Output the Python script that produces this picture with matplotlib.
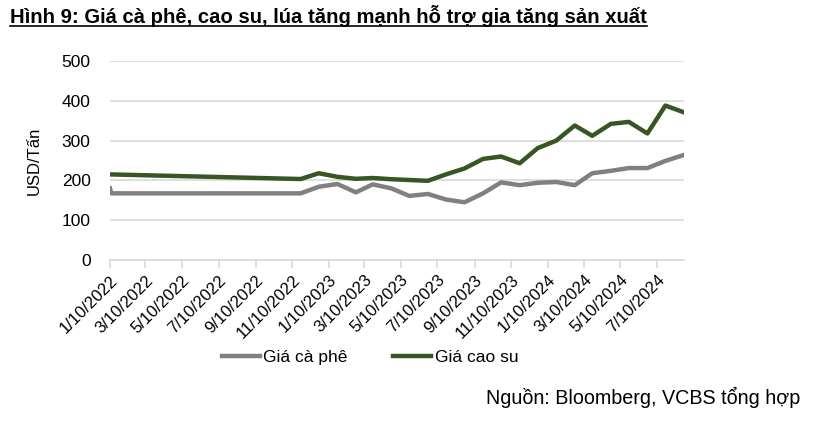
import numpy as np
import pandas as pd
import matplotlib
matplotlib.use("Agg")
import matplotlib.pyplot as plt
from matplotlib.lines import Line2D

plt.rcParams['font.family'] = ['Liberation Sans', 'DejaVu Sans']

# data (USD/Tan)
start_dates = ["2022-01-10", "2022-01-12"]
monthly_dates = list(pd.date_range("2022-11-01", periods=22, freq="MS") + pd.Timedelta(days=23))
coffee_start = [180, 167.5]
coffee = [167.5, 184, 191, 170, 190, 180, 161, 166, 152, 145, 167.5,
          195, 188, 194, 196, 188, 218, 224, 231, 231, 249, 264]
rubber_start = [215, 215]
rubber = [203.5, 218, 209, 204, 206, 203, 201, 199, 215, 230, 254,
          260, 243, 281, 300, 338, 312, 342, 347, 318, 388, 371]
tick_dates = pd.date_range("2022-01-01", "2024-07-01", freq="2MS") + pd.Timedelta(days=9)

dates = pd.to_datetime(start_dates + [d.strftime("%Y-%m-%d") for d in monthly_dates])
coffee_all = coffee_start + coffee
rubber_all = rubber_start + rubber

fig = plt.figure(figsize=(8.14, 4.30), dpi=100)
ax = fig.add_axes([110 / 814, 1 - 260 / 430, (684 - 110) / 814, (260 - 61) / 430])

ax.plot(dates, coffee_all, color="#808080", lw=3.2, solid_joinstyle="round", label="Giá cà phê")
ax.plot(dates, rubber_all, color="#375623", lw=3.2, solid_joinstyle="round", label="Giá cao su")

ax.set_ylim(0, 500)
ax.set_yticks(np.arange(0, 501, 100))
ax.set_xlim(dates[0], dates[-1])
ax.set_xticks(tick_dates)
ax.set_xticklabels([f"{d.month}/{d.day}/{d.year}" for d in tick_dates],
                   rotation=45, ha="right", rotation_mode="anchor", fontsize=12)
ax.grid(axis="y", color="#d9d9d9", lw=1.2)
ax.set_axisbelow(True)
for s in ["left", "right", "top"]:
    ax.spines[s].set_visible(False)
ax.spines["bottom"].set_color("#d9d9d9")
ax.spines["bottom"].set_linewidth(1.2)
ax.tick_params(axis="x", length=6, color="#d9d9d9", width=1.2, pad=3)
ax.tick_params(axis="y", length=0, labelsize=12.5, pad=14)
ax.set_ylabel("USD/Tấn", fontsize=12, labelpad=14)

fig.legend(loc="center", bbox_to_anchor=(370 / 814, 1 - 357 / 430), ncol=2,
           frameon=False, fontsize=12.5, handlelength=2.2, handletextpad=0.2,
           columnspacing=2.6)

t = fig.text(10 / 814, 1 - 16 / 430, "Hình 9: Giá cà phê, cao su, lúa tăng mạnh hỗ trợ gia tăng sản xuất",
             fontsize=14.6, fontweight="bold", va="center", ha="left")
fig.text(800 / 814, 1 - 397 / 430, "Nguồn: Bloomberg, VCBS tổng hợp", fontsize=14.2,
         ha="right", va="center")

fig.canvas.draw()
bb = t.get_window_extent().transformed(fig.transFigure.inverted())
fig.add_artist(Line2D([bb.x0, bb.x1], [bb.y0 + 0.002, bb.y0 + 0.002],
                      transform=fig.transFigure, color="black", lw=1.2))

fig.savefig("out.png", dpi=100)
